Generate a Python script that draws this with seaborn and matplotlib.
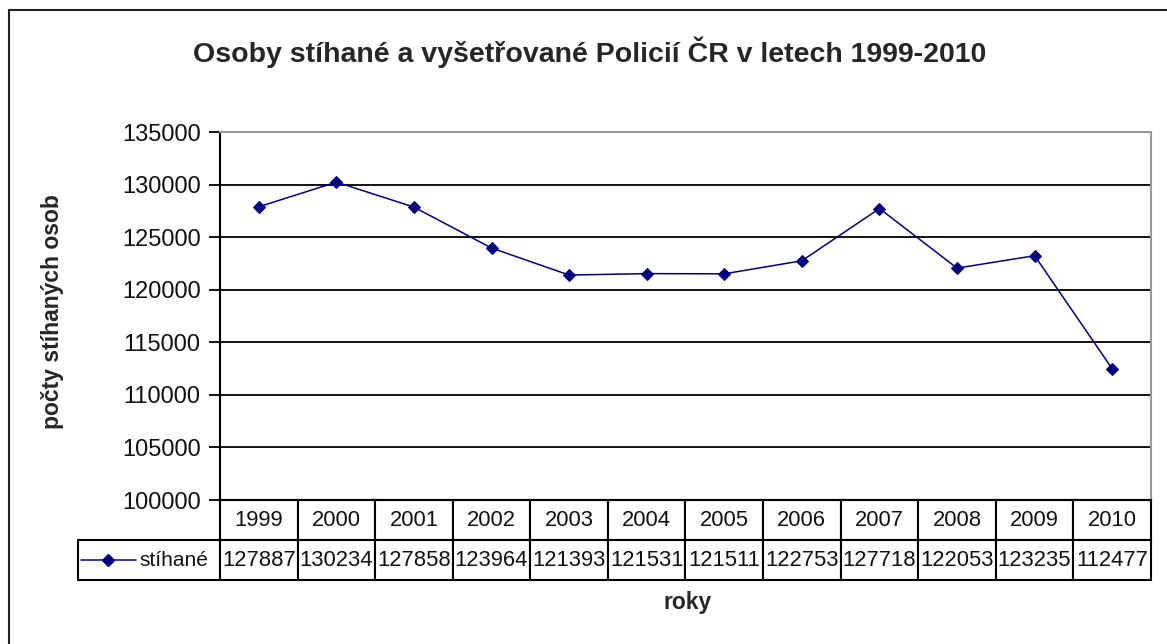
import matplotlib
matplotlib.use("Agg")
import matplotlib.pyplot as plt
import seaborn as sns
import pandas as pd
from matplotlib.patches import Rectangle

roky = [1999, 2000, 2001, 2002, 2003, 2004, 2005, 2006, 2007, 2008, 2009, 2010]
stihane = [127887, 130234, 127858, 123964, 121393, 121531, 121511,
           122753, 127718, 122053, 123235, 112477]
yticks = [100000, 105000, 110000, 115000, 120000, 125000, 130000, 135000]

sns.set_style("white")
plt.rcParams['font.family'] = ['Liberation Sans', 'DejaVu Sans']

W, H = 1167, 644
fig = plt.figure(figsize=(W / 100, H / 100), dpi=100)

# plot area in pixels
left, right, top, bottom = 220, 1151, 132, 500
ax = fig.add_axes([left / W, 1 - bottom / H, (right - left) / W, (bottom - top) / H])

df = pd.DataFrame({'rok': range(len(roky)), 'stihane': stihane})
sns.lineplot(data=df, x='rok', y='stihane', ax=ax, color='#000080', lw=1.1,
             marker='D', markersize=6.5, markeredgecolor='#000080')

ax.set_xlim(-0.5, len(roky) - 0.5)
ax.set_ylim(yticks[0], yticks[-1])
ax.set_yticks(yticks)
ax.set_yticklabels([str(v) for v in yticks], fontsize=17, color='#111111')
ax.set_xticks([])
ax.set_xlabel('')
ax.set_ylabel('')
ax.yaxis.grid(True, color='black', lw=1.3)
ax.tick_params(axis='y', left=True, length=8, width=1.3, color='black', pad=6)
for s in ['top', 'right']:
    ax.spines[s].set_color('#999999')
    ax.spines[s].set_linewidth(1.5)
ax.spines['left'].set_color('black')
ax.spines['left'].set_linewidth(1.5)
ax.spines['bottom'].set_color('black')
ax.spines['bottom'].set_linewidth(1.5)

# data table under the plot
ah = bottom - top
aw = right - left
lab_w = 142
col_w = aw / len(roky)
tab_h = 80
cell_text = [[''] + [str(r) for r in roky],
             ['stíhané'] + [str(v) for v in stihane]]
widths = [lab_w] + [col_w] * len(roky)
tab = ax.table(cellText=cell_text, colWidths=[w / sum(widths) for w in widths],
               cellLoc='center',
               bbox=[-lab_w / aw, -tab_h / ah, (aw + lab_w) / aw, tab_h / ah])
tab.auto_set_font_size(False)
for (r, c), cell in tab.get_celld().items():
    cell.set_linewidth(1.5)
    cell.set_edgecolor('black')
    cell.get_text().set_fontsize(15.8)
    cell.get_text().set_color('#111111')
tab[0, 0].set_visible(False)
tab[1, 0]._loc = 'right'
tab[1, 0].get_text().set_ha('right')
tab[1, 0].get_text().set_fontsize(15)
tab[1, 0].PAD = 0.08

# legend key in the row label cell
ax.plot([(81 - left) / aw, (136 - left) / aw], [-60 / ah, -60 / ah],
        transform=ax.transAxes, clip_on=False, color='#000080', lw=1.1)
ax.plot([(108 - left) / aw], [-60 / ah], transform=ax.transAxes, clip_on=False,
        color='#000080', marker='D', markersize=6.5)

fig.text(590 / W, 1 - 52 / H, 'Osoby stíhané a vyšetřované Policií ČR v letech 1999-2010',
         ha='center', va='center', fontsize=20.5, fontweight='bold')
fig.text(53 / W, 1 - 312 / H, 'počty stíhaných osob', rotation=90,
         ha='center', va='center', fontsize=16.5, fontweight='bold')
fig.text(688 / W, 1 - 603 / H, 'roky', ha='center', va='center',
         fontsize=16.5, fontweight='bold')

# outer chart frame (only left and top edges fall inside the picture)
fig.patches.append(Rectangle((9 / W, -0.1), 1.2, 1 - 10 / H + 0.1,
                             transform=fig.transFigure, fill=False,
                             edgecolor='#222222', lw=1.5))

fig.savefig('out.png', dpi=100)
